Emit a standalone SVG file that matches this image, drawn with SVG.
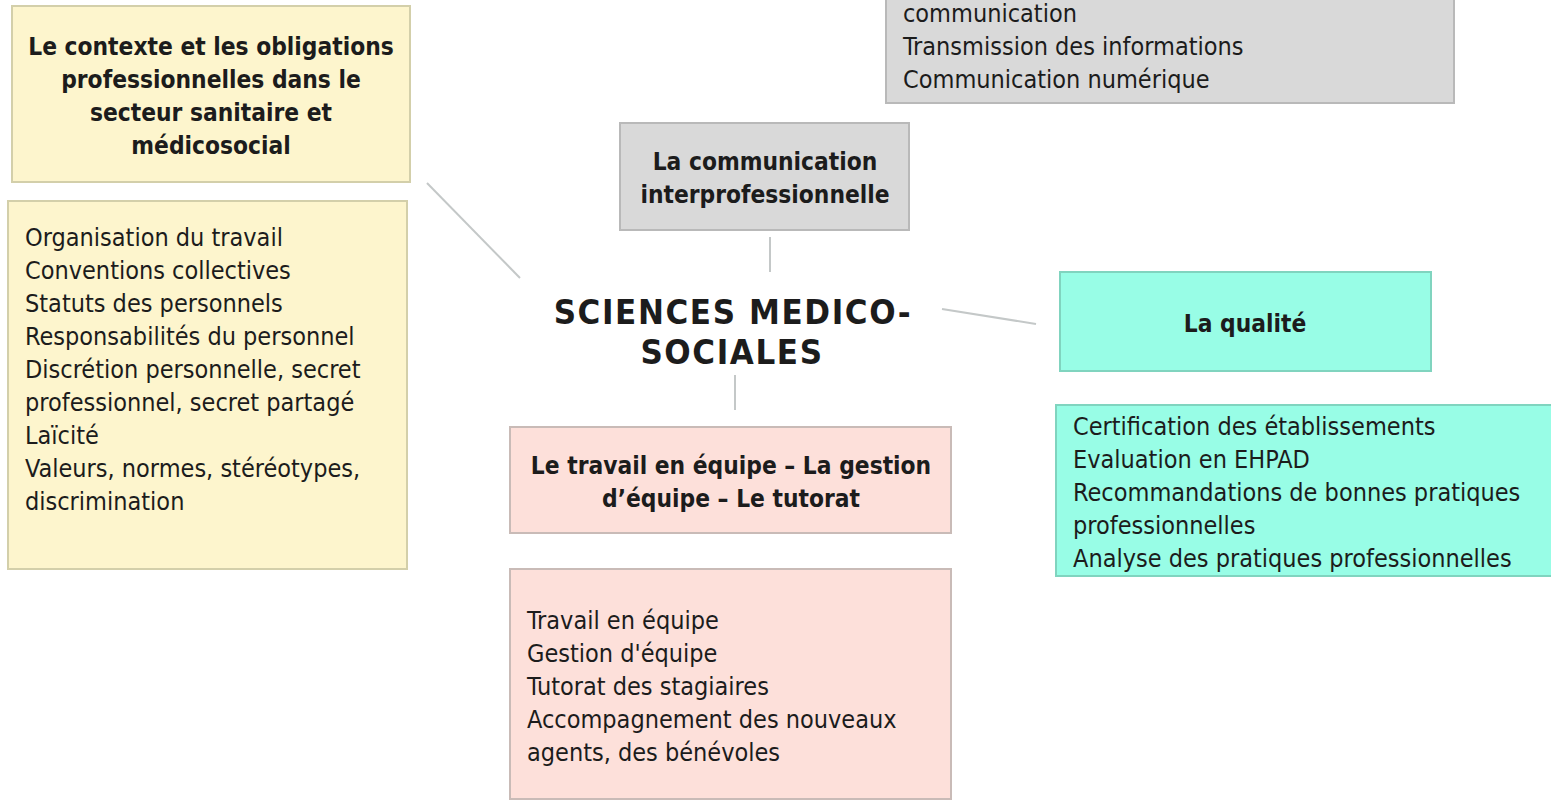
<svg xmlns="http://www.w3.org/2000/svg" width="1551" height="803" viewBox="0 0 1551 803">
<style>
text{font-family:"DejaVu Sans Condensed","DejaVu Sans","Liberation Sans",sans-serif;fill:#1c1c1c;font-size:25px}
.b{font-weight:bold;text-anchor:middle;font-size:24.3px}
.y{fill:#fdf5cd;stroke:#d3cfaa;stroke-width:2}
.g{fill:#d9d9d9;stroke:#b9b9b9;stroke-width:2}
.c{fill:#98fde6;stroke:#80d4bf;stroke-width:2}
.p{fill:#fde0da;stroke:#c9bbb7;stroke-width:2}
.ln{stroke:#c4c8c8;stroke-width:2;fill:none}
.t{font-weight:bold;font-size:34.5px;text-anchor:middle;letter-spacing:1.6px}
</style>
<rect width="1551" height="803" fill="#ffffff"/>
<g id="connectors">
<line class="ln" x1="427" y1="183" x2="520" y2="278"/>
<line class="ln" x1="942" y1="309" x2="1036" y2="324"/>
<line class="ln" x1="770" y1="237" x2="770" y2="272"/>
<line class="ln" x1="735" y1="375" x2="735" y2="410"/>
</g>
<g id="center">
<text class="t" x="733" y="324">SCIENCES MEDICO-</text>
<text class="t" x="732" y="364">SOCIALES</text>
</g>
<g id="contexte-titre">
<rect class="y" x="12" y="6" width="398" height="176"/>
<text class="b" x="211" y="55">Le contexte et les obligations</text>
<text class="b" x="211" y="88">professionnelles dans le</text>
<text class="b" x="211" y="121">secteur sanitaire et</text>
<text class="b" x="211" y="154">médicosocial</text>
</g>
<g id="contexte-liste">
<rect class="y" x="8" y="201" width="399" height="368"/>
<text x="25" y="246">Organisation du travail</text>
<text x="25" y="279">Conventions collectives</text>
<text x="25" y="312">Statuts des personnels</text>
<text x="25" y="345">Responsabilités du personnel</text>
<text x="25" y="378">Discrétion personnelle, secret</text>
<text x="25" y="411">professionnel, secret partagé</text>
<text x="25" y="444">Laïcité</text>
<text x="25" y="477">Valeurs, normes, stéréotypes,</text>
<text x="25" y="510">discrimination</text>
</g>
<g id="communication-liste">
<rect class="g" x="886" y="-10" width="568" height="113"/>
<text x="903" y="22">communication</text>
<text x="903" y="55">Transmission des informations</text>
<text x="903" y="88">Communication numérique</text>
</g>
<g id="communication-titre">
<rect class="g" x="620" y="123" width="289" height="107"/>
<text class="b" x="765" y="170">La communication</text>
<text class="b" x="765" y="203">interprofessionnelle</text>
</g>
<g id="qualite-titre">
<rect class="c" x="1060" y="272" width="371" height="99"/>
<text class="b" x="1245" y="332">La qualité</text>
</g>
<g id="qualite-liste">
<rect class="c" x="1056" y="405" width="505" height="171"/>
<text x="1073" y="435">Certification des établissements</text>
<text x="1073" y="468">Evaluation en EHPAD</text>
<text x="1073" y="501">Recommandations de bonnes pratiques</text>
<text x="1073" y="534">professionnelles</text>
<text x="1073" y="567">Analyse des pratiques professionnelles</text>
</g>
<g id="equipe-titre">
<rect class="p" x="510" y="427" width="441" height="106"/>
<text class="b" x="731" y="474">Le travail en équipe – La gestion</text>
<text class="b" x="731" y="507">d’équipe – Le tutorat</text>
</g>
<g id="equipe-liste">
<rect class="p" x="510" y="569" width="441" height="230"/>
<text x="527" y="629">Travail en équipe</text>
<text x="527" y="662">Gestion d'équipe</text>
<text x="527" y="695">Tutorat des stagiaires</text>
<text x="527" y="728">Accompagnement des nouveaux</text>
<text x="527" y="761">agents, des bénévoles</text>
</g>
</svg>
